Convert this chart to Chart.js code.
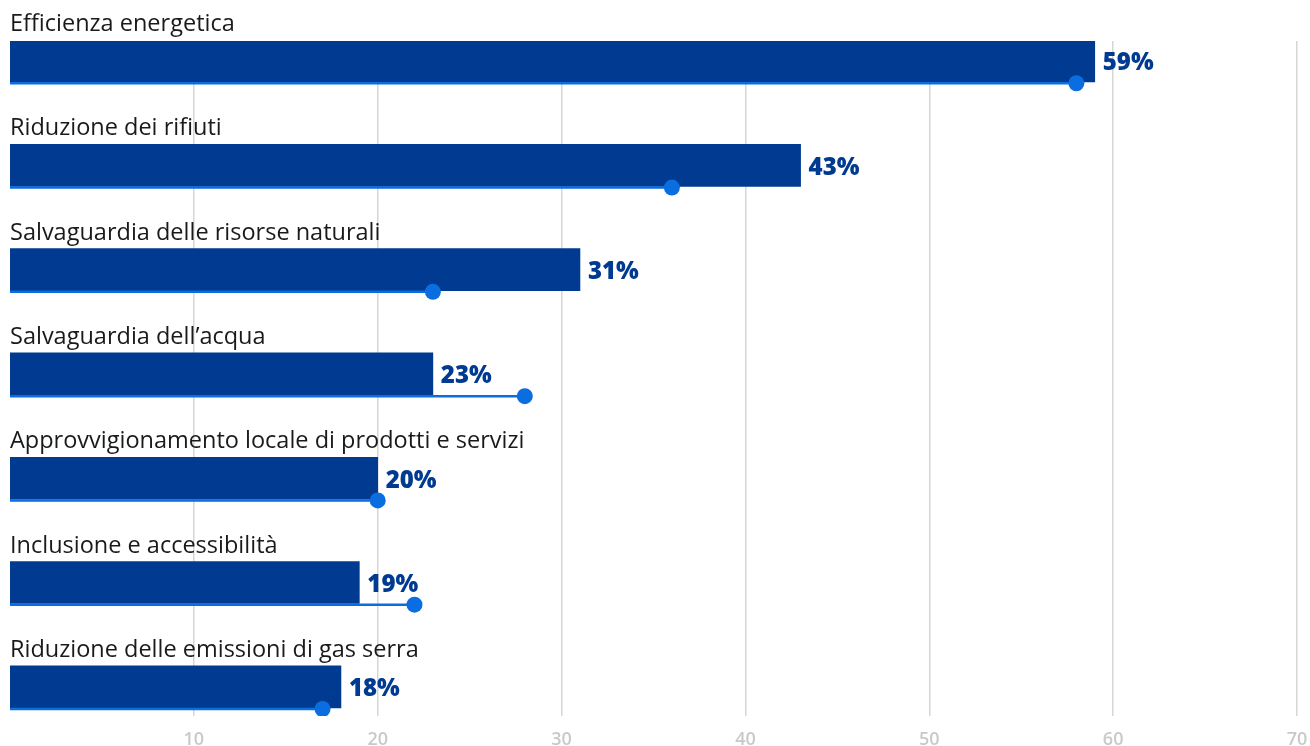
<!DOCTYPE html>
<html>
<head>
<meta charset="utf-8">
<script src="https://cdn.jsdelivr.net/npm/chart.js@4"></script>
<style>
  html, body { margin: 0; padding: 0; background: #fff; }
  #wrap { width: 1310px; height: 746px; }
</style>
</head>
<body>
<div id="wrap"><canvas id="chart" width="1310" height="746"></canvas></div>
<script>
const labels = [
  'Efficienza energetica',
  'Riduzione dei rifiuti',
  'Salvaguardia delle risorse naturali',
  'Salvaguardia dell\u2019acqua',
  'Approvvigionamento locale di prodotti e servizi',
  'Inclusione e accessibilità',
  'Riduzione delle emissioni di gas serra'
];
const current = [59, 43, 31, 23, 20, 19, 18];
const previous = [58, 36, 23, 28, 20, 22, 17];
const xTicks = [10, 20, 30, 40, 50, 60, 70];

const barBlue = '#003a91';
const dotBlue = '#0a6ee0';
const FONT = '"Open Sans", Lato, sans-serif';

// lollipop sits on the lower edge of each bar
const lineShift = 0.213;

const barData = current.map((v, i) => ({ x: v, y: i }));
const lineData = [];
previous.forEach((v, i) => {
  lineData.push({ x: 0, y: i + lineShift });
  lineData.push({ x: v, y: i + lineShift });
  lineData.push({ x: NaN, y: NaN });
});

// category names above bars, percentages after them
const labelPlugin = {
  id: 'rowLabels',
  afterDatasetsDraw(chart) {
    const { ctx, scales: { x, y } } = chart;
    ctx.save();
    ctx.font = '400 23.5px ' + FONT;
    ctx.fillStyle = '#1a1a1a';
    ctx.textAlign = 'left';
    ctx.textBaseline = 'alphabetic';
    labels.forEach((l, i) => {
      ctx.fillText(l, 10, y.getPixelForValue(i) - 30);
    });
    ctx.font = '800 24px ' + FONT;
    ctx.fillStyle = barBlue;
    ctx.textBaseline = 'middle';
    current.forEach((v, i) => {
      ctx.fillText(v + '%', x.getPixelForValue(v) + 8, y.getPixelForValue(i) + 2.5);
    });
    ctx.restore();
  }
};

new Chart(document.getElementById('chart'), {
  type: 'bar',
  data: {
    datasets: [
      {
        type: 'line',
        data: lineData,
        borderColor: dotBlue,
        borderWidth: 2.5,
        pointRadius: (c) => (c.raw && c.raw.x > 0 ? 8 : 0),
        pointHoverRadius: (c) => (c.raw && c.raw.x > 0 ? 8 : 0),
        pointBackgroundColor: dotBlue,
        pointBorderWidth: 0,
        spanGaps: false,
        order: 0
      },
      {
        type: 'bar',
        data: barData,
        backgroundColor: barBlue,
        barThickness: 42,
        borderWidth: 0,
        order: 1
      }
    ]
  },
  plugins: [labelPlugin],
  options: {
    indexAxis: 'y',
    responsive: false,
    animation: false,
    layout: { padding: { left: 10, right: 13, top: 41, bottom: 0 } },
    plugins: { legend: { display: false }, tooltip: { enabled: false } },
    scales: {
      x: {
        type: 'linear',
        position: 'bottom',
        min: 0,
        max: 70,
        afterBuildTicks: (s) => { s.ticks = xTicks.map((v) => ({ value: v })); },
        afterFit: (s) => { s.height = 30; s.paddingLeft = 0; s.paddingRight = 0; },
        border: { display: false },
        grid: {
          color: '#d6d6d6',
          lineWidth: 1.5,
          drawTicks: false
        },
        ticks: {
          padding: 13,
          color: '#c9c9c9',
          font: { family: FONT, size: 18, weight: '600' }
        }
      },
      y: {
        type: 'linear',
        reverse: true,
        offset: false,
        min: -0.192,
        max: 6.28,
        display: false,
        grid: { display: false }
      }
    }
  }
});
</script>
</body>
</html>
